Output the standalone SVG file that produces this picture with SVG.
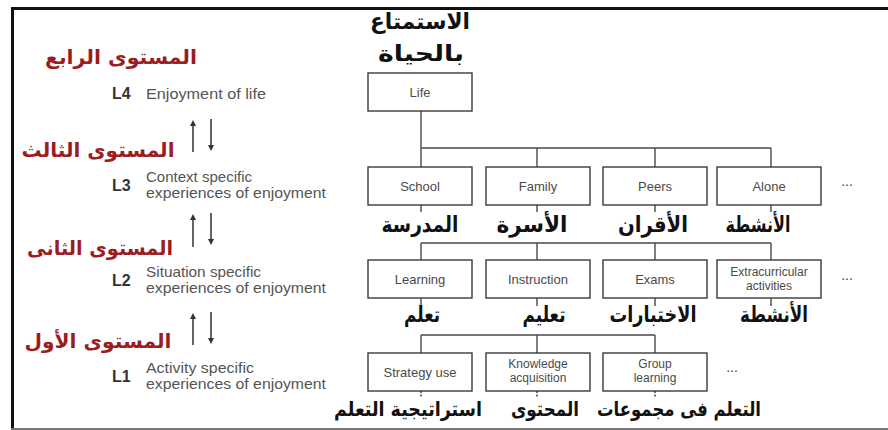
<svg xmlns="http://www.w3.org/2000/svg" width="888" height="430" viewBox="0 0 888 430">
<style>
.box{fill:#fff;stroke:#3a3a3a;stroke-width:1.4}
.ln{fill:none;stroke:#4a4a4a;stroke-width:1.4}
.dot{fill:none;stroke:#4a4a4a;stroke-width:1.6;stroke-dasharray:2 1.5}
.bl{font-family:"Liberation Sans",Arial,sans-serif;font-size:13px;fill:#4a4a4a;text-anchor:middle}
.bl2{font-family:"Liberation Sans",Arial,sans-serif;font-size:12px;fill:#4a4a4a;text-anchor:middle}
.en{font-family:"Liberation Sans",Arial,sans-serif;font-size:14.5px;fill:#555}
.lv{font-family:"Liberation Sans",Arial,sans-serif;font-size:16px;font-weight:bold;fill:#333}
.ar{font-family:"DejaVu Sans",sans-serif;font-weight:bold;font-size:22px;fill:#111;text-anchor:middle}
.ar3{font-family:"DejaVu Sans",sans-serif;font-weight:bold;font-size:20px;fill:#111;text-anchor:middle}
.red{font-family:"DejaVu Sans",sans-serif;font-weight:bold;font-size:20px;fill:#9c1c1f;text-anchor:middle}
.arw{fill:none;stroke:#333;stroke-width:1.5}
.dots{font-family:"Liberation Sans",Arial,sans-serif;font-size:14px;fill:#444;text-anchor:middle}
</style>
<defs>
<marker id="ah" markerWidth="6" markerHeight="6" refX="3" refY="3" orient="auto" markerUnits="userSpaceOnUse">
<path d="M0,0 L6,3 L0,6 z" fill="#333"/>
</marker>
</defs>
<rect x="0" y="0" width="888" height="430" fill="#fff"/>
<g id="frame">
<line x1="12.5" y1="7" x2="12.5" y2="430" stroke="#111" stroke-width="3"/>
<line x1="11" y1="8.5" x2="888" y2="8.5" stroke="#111" stroke-width="3"/>
<line x1="11" y1="429" x2="888" y2="429" stroke="#777" stroke-width="2"/>
</g>
<g id="level4">
<text class="red" x="121" y="64" textLength="152" lengthAdjust="spacingAndGlyphs">المستوى الرابع</text>
<text class="lv" x="112" y="99">L4</text>
<text class="en" x="146" y="99" textLength="120" lengthAdjust="spacingAndGlyphs">Enjoyment of life</text>
</g>
<g id="level3">
<text class="red" x="98" y="157" textLength="153" lengthAdjust="spacingAndGlyphs">المستوى الثالث</text>
<text class="lv" x="112" y="191">L3</text>
<text class="en" x="146" y="182" textLength="106" lengthAdjust="spacingAndGlyphs">Context specific</text>
<text class="en" x="146" y="198" textLength="180" lengthAdjust="spacingAndGlyphs">experiences of enjoyment</text>
</g>
<g id="level2">
<text class="red" x="100" y="255" textLength="146" lengthAdjust="spacingAndGlyphs">المستوى الثانى</text>
<text class="lv" x="112" y="286">L2</text>
<text class="en" x="146" y="277" textLength="115" lengthAdjust="spacingAndGlyphs">Situation specific</text>
<text class="en" x="146" y="293" textLength="180" lengthAdjust="spacingAndGlyphs">experiences of enjoyment</text>
</g>
<g id="level1">
<text class="red" x="98" y="348" textLength="147" lengthAdjust="spacingAndGlyphs">المستوى الأول</text>
<text class="lv" x="112" y="382">L1</text>
<text class="en" x="146" y="373" textLength="108" lengthAdjust="spacingAndGlyphs">Activity specific</text>
<text class="en" x="146" y="389" textLength="180" lengthAdjust="spacingAndGlyphs">experiences of enjoyment</text>
</g>
<g id="level-arrows">
<line class="arw" x1="193" y1="152" x2="193" y2="123" marker-end="url(#ah)"/>
<line class="arw" x1="211" y1="119" x2="211" y2="148" marker-end="url(#ah)"/>
<line class="arw" x1="193" y1="247" x2="193" y2="217" marker-end="url(#ah)"/>
<line class="arw" x1="211" y1="213" x2="211" y2="242" marker-end="url(#ah)"/>
<line class="arw" x1="193" y1="345" x2="193" y2="316" marker-end="url(#ah)"/>
<line class="arw" x1="211" y1="312" x2="211" y2="341" marker-end="url(#ah)"/>
</g>
<g id="title">
<text class="ar" x="420" y="29" font-size="24" textLength="100" lengthAdjust="spacingAndGlyphs">الاستمتاع</text>
<text class="ar" x="421" y="61" font-size="24" textLength="86" lengthAdjust="spacingAndGlyphs">بالحياة</text>
</g>
<g id="connectors">
<path class="ln" d="M421,111 V167 M421,148 H771 M537,148 V167 M655,148 V167 M771,148 V167"/>
<path class="ln" d="M421,205 V212 M537,205 V212 M655,205 V212 M771,205 V212"/>
<path class="ln" d="M421,243 H771 M421,243 V260 M537,243 V260 M655,243 V260 M771,243 V260"/>
<path class="ln" d="M421,298 V306 M537,298 V306 M655,298 V306 M771,298 V306"/>
<path class="ln" d="M421,335 H655 M421,335 V353 M537,335 V353 M655,335 V353"/>
<path class="dot" d="M421,391 V398 M537,391 V398 M655,391 V398"/>
</g>
<g id="life"><rect class="box" x="368" y="73" width="104" height="38"/><text class="bl" x="420" y="97">Life</text></g>
<g id="school"><rect class="box" x="368" y="167" width="104" height="38"/><text class="bl" x="420" y="191">School</text></g>
<g id="family"><rect class="box" x="486" y="167" width="104" height="38"/><text class="bl" x="538" y="191">Family</text></g>
<g id="peers"><rect class="box" x="603" y="167" width="104" height="38"/><text class="bl" x="655" y="191">Peers</text></g>
<g id="alone"><rect class="box" x="717" y="167" width="104" height="38"/><text class="bl" x="769" y="191">Alone</text></g>
<g id="more1"><text class="dots" x="847" y="186">...</text></g>
<g id="learning"><rect class="box" x="368" y="260" width="104" height="38"/><text class="bl" x="420" y="284">Learning</text></g>
<g id="instruction"><rect class="box" x="486" y="260" width="104" height="38"/><text class="bl" x="538" y="284">Instruction</text></g>
<g id="exams"><rect class="box" x="603" y="260" width="104" height="38"/><text class="bl" x="655" y="284">Exams</text></g>
<g id="extracurricular"><rect class="box" x="717" y="260" width="104" height="38"/><text class="bl2" x="769" y="276">Extracurricular</text><text class="bl2" x="769" y="290">activities</text></g>
<g id="more2"><text class="dots" x="847" y="280">...</text></g>
<g id="strategy"><rect class="box" x="368" y="353" width="104" height="38"/><text class="bl" x="420" y="377">Strategy use</text></g>
<g id="knowledge"><rect class="box" x="486" y="353" width="104" height="38"/><text class="bl2" x="538" y="368">Knowledge</text><text class="bl2" x="538" y="382">acquisition</text></g>
<g id="group"><rect class="box" x="603" y="353" width="104" height="38"/><text class="bl2" x="655" y="368">Group</text><text class="bl2" x="655" y="382">learning</text></g>
<g id="more3"><text class="dots" x="732" y="372">...</text></g>
<g id="ar-row1">
<text class="ar" x="420" y="232" textLength="77" lengthAdjust="spacingAndGlyphs">المدرسة</text>
<text class="ar" x="532" y="232" textLength="71" lengthAdjust="spacingAndGlyphs">الأسرة</text>
<text class="ar" x="653" y="232" textLength="70" lengthAdjust="spacingAndGlyphs">الأقران</text>
<text class="ar" x="758" y="232" textLength="65" lengthAdjust="spacingAndGlyphs">الأنشطة</text>
</g>
<g id="ar-row2">
<text class="ar" x="422" y="322" textLength="36" lengthAdjust="spacingAndGlyphs">تعلم</text>
<text class="ar" x="544" y="322" textLength="43" lengthAdjust="spacingAndGlyphs">تعليم</text>
<text class="ar" x="653" y="322" textLength="87" lengthAdjust="spacingAndGlyphs">الاختبارات</text>
<text class="ar" x="774" y="322" textLength="68" lengthAdjust="spacingAndGlyphs">الأنشطة</text>
</g>
<g id="ar-row3">
<text class="ar3" x="408" y="416" textLength="148" lengthAdjust="spacingAndGlyphs">استراتيجية التعلم</text>
<text class="ar3" x="545" y="416" textLength="68" lengthAdjust="spacingAndGlyphs">المحتوى</text>
<text class="ar3" x="679" y="416" textLength="164" lengthAdjust="spacingAndGlyphs">التعلم فى مجموعات</text>
</g>
</svg>
